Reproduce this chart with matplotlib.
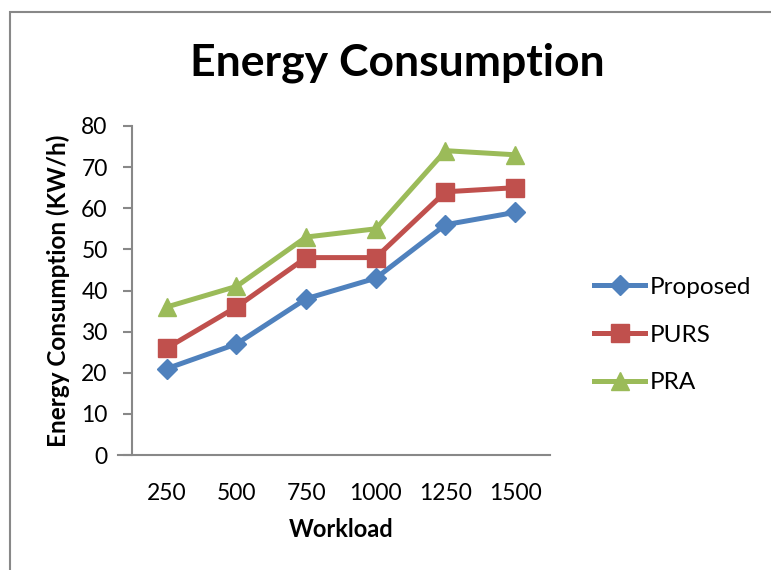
import matplotlib
matplotlib.use('Agg')
import matplotlib.pyplot as plt
from matplotlib.patches import Rectangle

# Data
Workload = ['250', '500', '750', '1000', '1250', '1500']
Proposed = [21, 27, 38, 43, 56, 59]
PURS     = [26, 36, 48, 48, 64, 65]
PRA      = [36, 41, 53, 55, 74, 73]
YTicks   = [0, 10, 20, 30, 40, 50, 60, 70, 80]

plt.rcParams['font.family'] = ['Lato', 'DejaVu Sans']

fig = plt.figure(figsize=(7.71, 5.70), dpi=100)

# outer chart border (grey, running off the right and bottom edges)
fig.patches.append(Rectangle((10/771., -0.05), 1.0, 1 - 12/570. + 0.05,
                             transform=fig.transFigure, fill=False,
                             edgecolor='#888888', linewidth=1.5))

ax1 = plt.axes([132/771., 1-455/570., 418/771., 329/570.]) # left, bottom, width, height

xx = [i + 0.5 for i in range(len(Workload))]
ax1.plot(xx, Proposed, c='#4F81BD', linestyle='solid', linewidth=3.6,
         marker='D', markersize=10, label='Proposed')
ax1.plot(xx, PURS, c='#C0504D', linestyle='solid', linewidth=3.6,
         marker='s', markersize=12.5, label='PURS')
ax1.plot(xx, PRA, c='#9BBB59', linestyle='solid', linewidth=3.6,
         marker='^', markersize=13, label='PRA')

ax1.set_xlim(0, len(Workload))
ax1.set_ylim(0, 80)
ax1.set_xticks(xx)
ax1.set_xticklabels(Workload)
ax1.set_yticks(YTicks)
ax1.tick_params(axis='x', length=0, labelsize=16.5, pad=20)
ax1.tick_params(axis='y', length=6.5, width=1.5, color='#888888', labelsize=16.5, pad=11)
for sp in ['top', 'right']:
    ax1.spines[sp].set_visible(False)
for sp in ['left', 'bottom']:
    ax1.spines[sp].set_color('#888888')
    ax1.spines[sp].set_linewidth(1.5)
ax1.spines['bottom'].set_bounds(-0.2, len(Workload))

ax1.set_xlabel('Workload', fontsize=17, fontweight='bold', labelpad=10)
ax1.set_ylabel('Energy Consumption (KW/h)', fontsize=17.5, fontweight='bold', labelpad=8)

fig.text(397/771., 1-63/570., 'Energy Consumption', fontsize=32, fontweight='bold',
         ha='center', va='center')

leg = ax1.legend(loc='center left', bbox_to_anchor=(582/771., 1-335/570.),
                 bbox_transform=fig.transFigure, frameon=False, borderpad=0,
                 fontsize=17.5, labelspacing=1.1, handlelength=2.1, handletextpad=0.2)

plt.savefig('out.png', dpi=100)
print("And were done")
